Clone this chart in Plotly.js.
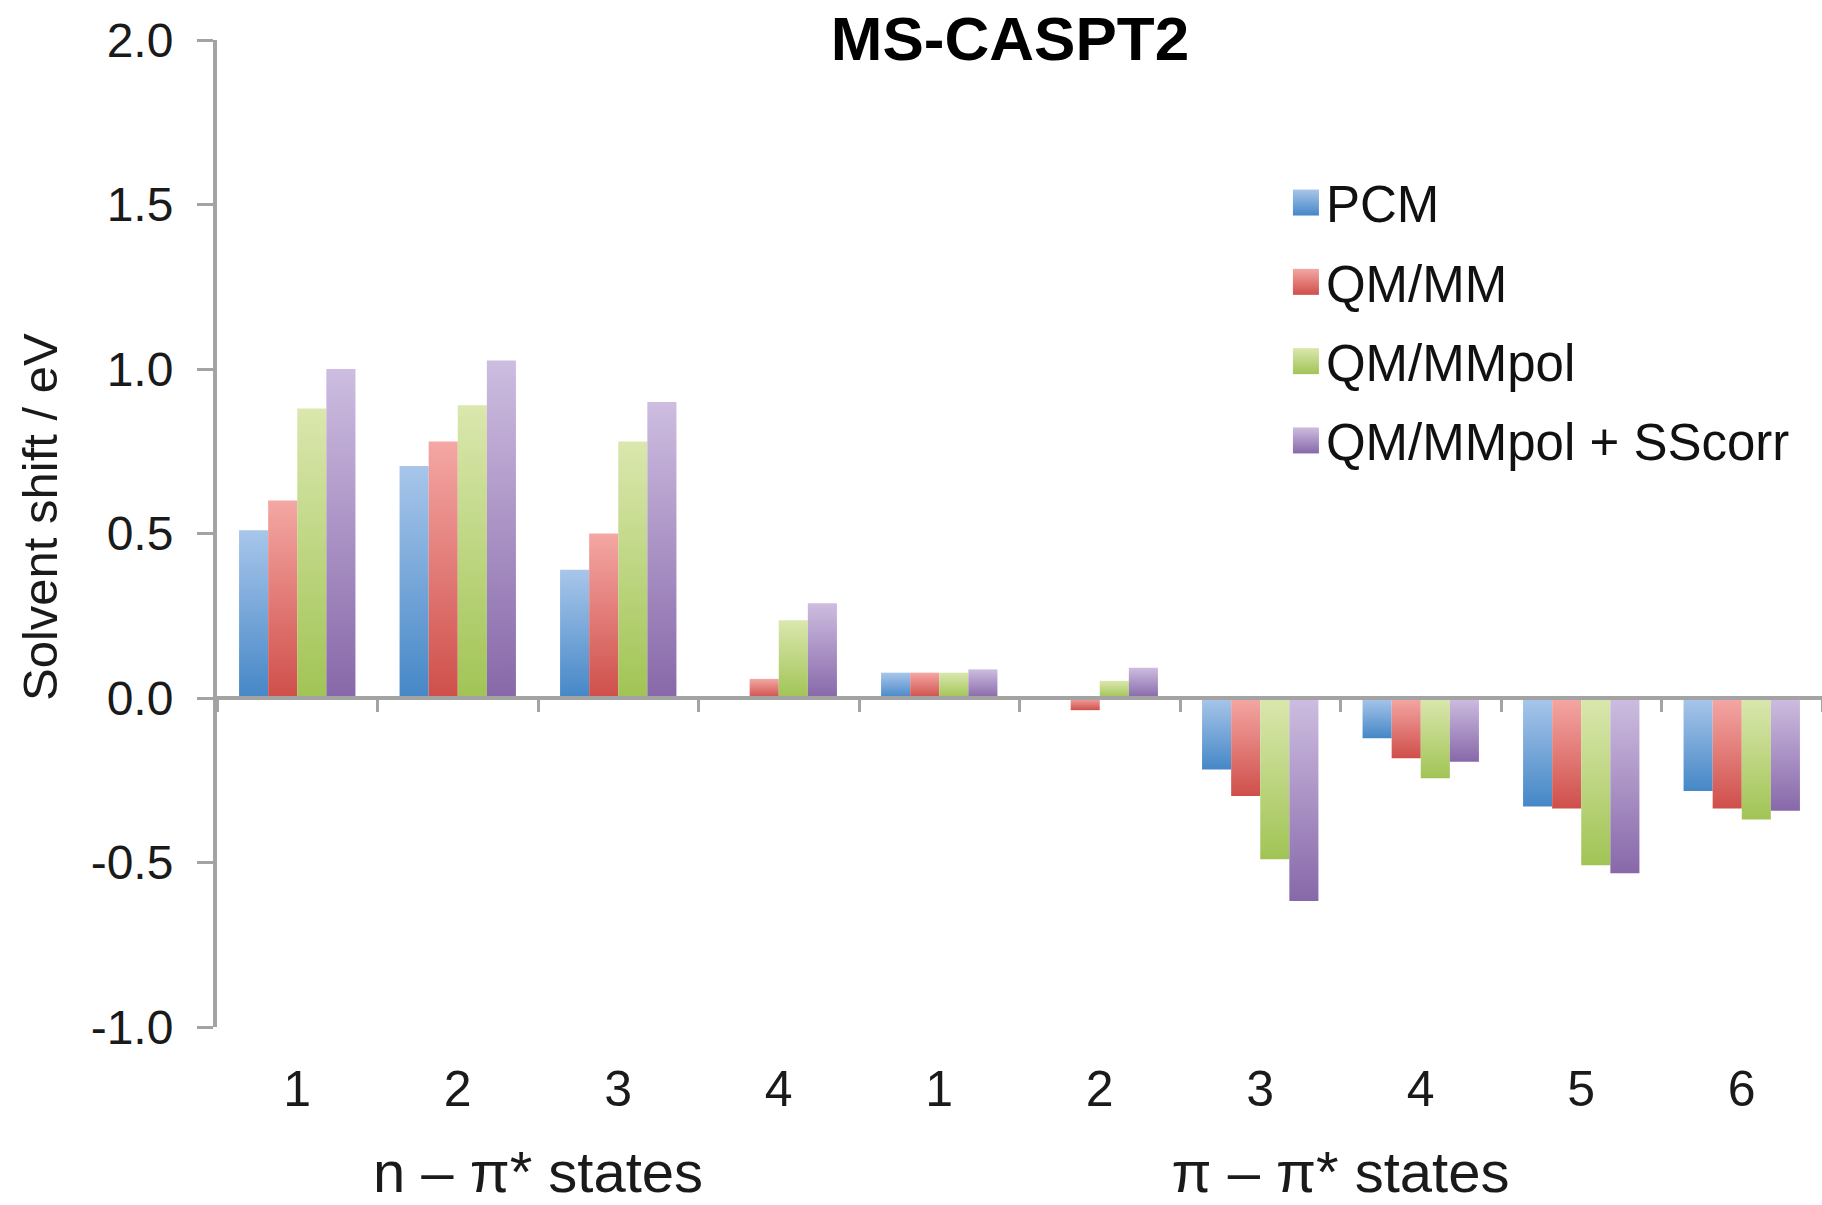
<!DOCTYPE html>
<html><head><meta charset="utf-8">
<script src="https://cdn.plot.ly/plotly-3.0.1.min.js"></script>
<style>html,body{margin:0;padding:0;background:#fff}</style>
</head><body>
<div id="chart" style="width:1822px;height:1205px"></div>
<script>
// ---- data ----
const stateGroups = ["n – π* states","n – π* states","n – π* states","n – π* states",
                     "π – π* states","π – π* states","π – π* states","π – π* states","π – π* states","π – π* states"];
const stateNumbers = ["1","2","3","4","1","2","3","4","5","6"];
const seriesNames = ["PCM","QM/MM","QM/MMpol","QM/MMpol + SScorr"];
const pcm       = [0.51, 0.705, 0.39, 0.0,   0.077, 0.0,   -0.217, -0.122, -0.33,  -0.283];
const qmmm      = [0.60, 0.78,  0.50, 0.058, 0.077, -0.037, -0.298, -0.183, -0.336, -0.336];
const qmmmpol   = [0.88, 0.89,  0.78, 0.236, 0.077, 0.052, -0.49,  -0.244, -0.508, -0.369];
const qmmmpolSS = [1.00, 1.026, 0.90, 0.288, 0.087, 0.092, -0.617, -0.194, -0.533, -0.343];
const yTickValues = [-1, -0.5, 0, 0.5, 1, 1.5, 2];
const yTickLabels = ["-1.0", "-0.5", "0.0", "0.5", "1.0", "1.5", "2.0"];
const yAxisTitle = "Solvent shift / eV";

// ---- style ----
const seriesValues = [pcm, qmmm, qmmmpol, qmmmpolSS];
const gradTop    = ["#a8c6ea", "#f4a7a4", "#dae7ae", "#cdbde0"];
const gradBottom = ["#4587c7", "#cf4f4a", "#a1c455", "#8768a9"];
const flatColor  = ["#77a6d9", "#e17a74", "#bdd57f", "#a992c4"];
const FONT = "Liberation Sans, Arial, Helvetica, sans-serif";
const AXIS_GRAY = "#a3a3a3";
const GROUP_LABEL_SHIFT = 56;   // px, extra space between state numbers and group labels

const traces = seriesValues.map((vals, i) => ({
  type: "bar",
  name: seriesNames[i],
  x: [stateGroups, stateNumbers],
  y: vals,
  legendgroup: "g" + i,
  marker: {color: flatColor[i], line: {width: 0}}
}));
// empty helper trace so that the zero-level axis (ticks between categories) is drawn
traces.push({type: "scatter", x: [], y: [], xaxis: "x2", yaxis: "y",
             showlegend: false, hoverinfo: "skip"});

const layout = {
  width: 1822, height: 1205,
  margin: {l: 217, r: 0, t: 40, b: 178},
  paper_bgcolor: "#ffffff", plot_bgcolor: "#ffffff",
  font: {family: FONT, color: "#1a1a1a"},
  barmode: "group",
  bargap: 0.275,
  bargroupgap: 0,
  showlegend: true,
  title: {
    text: "<b>MS-CASPT2</b>",
    font: {family: FONT, size: 62, color: "#000"},
    x: 1010/1822, xanchor: "center", xref: "container",
    y: 1 - 38/1205, yanchor: "middle", yref: "container"
  },
  xaxis: {
    type: "multicategory",
    showline: false, showgrid: false, zeroline: false,
    ticks: "", ticklabelstandoff: 28,
    showdividers: false,
    tickfont: {family: FONT, size: 50, color: "#1a1a1a"}
  },
  xaxis2: {
    overlaying: "x", anchor: "free", position: 1/3, side: "bottom",
    type: "linear", range: [-0.5, 9.5],
    tick0: 0.5, dtick: 1,
    showline: true, linecolor: AXIS_GRAY, linewidth: 4,
    ticks: "outside", ticklen: 12, tickwidth: 3, tickcolor: AXIS_GRAY,
    showticklabels: false, showgrid: false, zeroline: false
  },
  yaxis: {
    range: [-1, 2], tickvals: yTickValues, ticktext: yTickLabels,
    showline: true, linecolor: AXIS_GRAY, linewidth: 4,
    ticks: "outside", ticklen: 16, tickwidth: 3, tickcolor: AXIS_GRAY,
    showgrid: false, zeroline: false,
    tickfont: {family: FONT, size: 48, color: "#1a1a1a"},
    ticklabelstandoff: 14
  },
  annotations: [{
    text: yAxisTitle, textangle: -90,
    xref: "paper", yref: "paper",
    x: (40 - 217) / 1605, y: (1027 - 517) / 987,
    xanchor: "center", yanchor: "middle", showarrow: false,
    font: {family: FONT, size: 49, color: "#1a1a1a"}
  }],
  legend: {
    x: 0.666, xanchor: "left", y: 0.8755, yanchor: "top",
    font: {family: FONT, size: 51, color: "#111"},
    bgcolor: "rgba(0,0,0,0)", borderwidth: 0,
    tracegroupgap: 10, itemwidth: 30
  }
};

Plotly.newPlot("chart", traces, layout, {staticPlot: true}).then(gd => {
  const svgNS = "http://www.w3.org/2000/svg";
  let defs = gd.querySelector(".main-svg defs");
  if (!defs) { defs = document.createElementNS(svgNS, "defs"); gd.querySelector(".main-svg").appendChild(defs); }
  seriesNames.forEach((_, i) => {
    const lg = document.createElementNS(svgNS, "linearGradient");
    lg.setAttribute("id", "barGrad" + i);
    lg.setAttribute("x1", "0"); lg.setAttribute("y1", "0");
    lg.setAttribute("x2", "0"); lg.setAttribute("y2", "1");
    [[0, gradTop[i]], [1, gradBottom[i]]].forEach(([o, c]) => {
      const s = document.createElementNS(svgNS, "stop");
      s.setAttribute("offset", o); s.setAttribute("stop-color", c);
      lg.appendChild(s);
    });
    defs.appendChild(lg);
  });
  gd.querySelectorAll(".barlayer .trace").forEach((t, i) => {
    t.querySelectorAll("path").forEach(p => { p.style.fill = "url(#barGrad" + i + ")"; });
  });
  gd.querySelectorAll(".legend .traces").forEach((t, k) => {
    let idx = k;
    try { idx = t.__data__[0][0].trace.index; } catch (e) {}
    t.querySelectorAll(".legendpoints path").forEach(p => {
      p.setAttribute("d", "M13,13H-13V-13H13Z");
      p.style.fill = "url(#barGrad" + idx + ")";
      p.style.stroke = "none";
    });
  });
  // group labels ("n – π* states", "π – π* states"): larger and lower, as in the reference
  gd.querySelectorAll("g.xtick2").forEach(g => {
    const tr = g.getAttribute("transform") || "";
    g.setAttribute("transform", tr + " translate(0," + GROUP_LABEL_SHIFT + ")");
    g.querySelectorAll("text").forEach(t => { t.style.fontSize = "58px"; });
  });
});
</script>
</body></html>
